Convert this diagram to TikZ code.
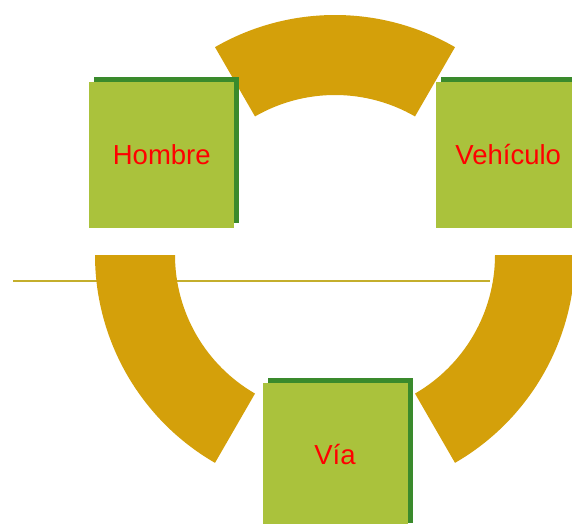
\documentclass[tikz,border=0pt]{standalone}
\usepackage{fontspec}
\setmainfont{Liberation Sans}
\usetikzlibrary{calc,shadows}
\definecolor{arcgold}{RGB}{212,160,10}
\definecolor{boxgreen}{RGB}{170,194,60}
\definecolor{shadowgreen}{RGB}{58,138,44}
\definecolor{lineolive}{RGB}{196,174,44}
\tikzstyle{Factor}=[rectangle, minimum width=145, minimum height=145, fill=boxgreen, text=red, font=\fontsize{27.5}{33}\selectfont, drop shadow={shadow xshift=5pt, shadow yshift=5pt, fill=shadowgreen, opacity=1}]
\tikzstyle{Ring}=[fill=arcgold]

\begin{document}
\begin{tikzpicture}[x=1pt, y=1pt]
    \useasboundingbox (0,0) rectangle (572,523);
    \clip (0,0) rectangle (572,523);
    \coordinate (centro) at (335,268);
    \coordinate (lineL) at (13,242);
    \coordinate (lineR) at (490,242);

    \draw[lineolive, line width=1.8] (lineL) -- (lineR);

    \foreach \a in {60,180,300}
        \fill[Ring] ($(centro)+(\a:240)$) arc[start angle=\a, end angle=\a+60, radius=240]
        -- ($(centro)+(\a+60:160)$) arc[start angle=\a+60, end angle=\a, radius=160] -- cycle;

    \path
    ($(centro)+(150:200)$) node[Factor] (hombre) {Hombre}
    ($(centro)+(30:200)$) node[Factor] (vehiculo) {Vehículo}
    ($(centro)+(270:200)$) node[Factor] (via) {Vía};
\end{tikzpicture}
\end{document}
